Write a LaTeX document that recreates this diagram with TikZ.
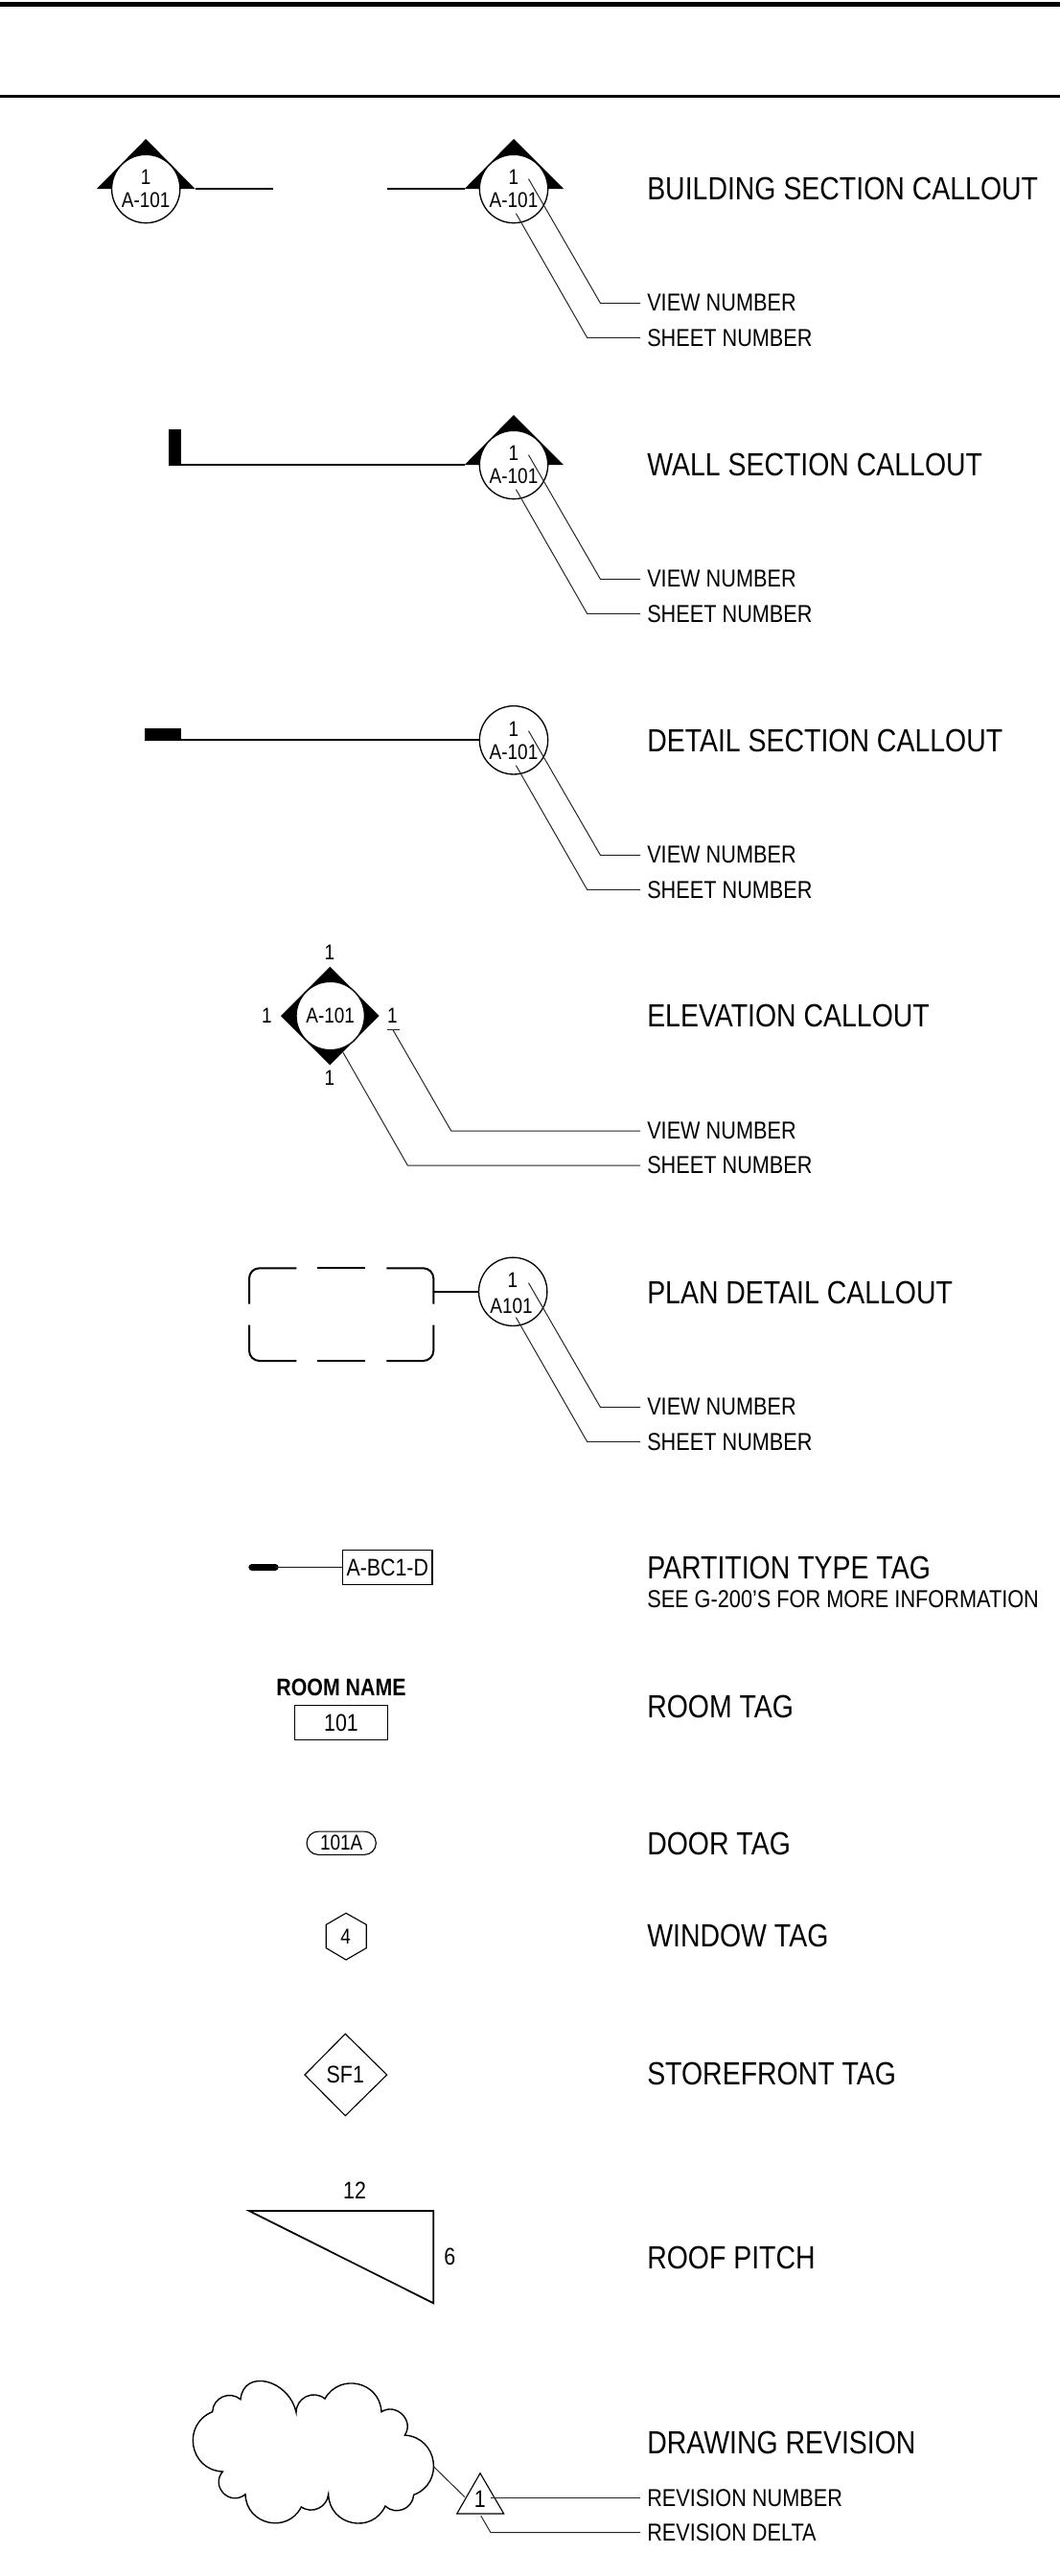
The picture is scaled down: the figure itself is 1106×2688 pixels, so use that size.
\documentclass[tikz,border=0pt]{standalone}
\usepackage{fontspec}
\setmainfont[FakeStretch=0.85]{Liberation Sans}
\usetikzlibrary{shapes.misc}
\tikzset{
  main/.style={line width=1.3pt,black},
  leader/.style={line width=0.75pt,black!85},
  thin tag/.style={line width=0.85pt,black},
  bubble/.style={circle,draw=black,line width=1pt,fill=white,minimum size=53.5pt,inner sep=0pt},
  ttl/.style={anchor=west,inner sep=0pt,font=\fontsize{25.1}{25.1}\selectfont},
  lab/.style={anchor=west,inner xsep=5.25pt,inner ysep=0pt,font=\fontsize{19.14}{19.14}\selectfont},
  sm/.style={inner sep=0pt,font=\fontsize{16.75}{16.75}\selectfont},
  md/.style={inner sep=0pt,font=\fontsize{18.85}{18.85}\selectfont},
  blk/.style={fill=black,draw=none},
}
\newcommand{\viewsheet}[1]{%
  \coordinate (vs#1) at (551.5,186.7);
  \coordinate (vk#1) at (626.4,316.3);
  \coordinate (ss#1) at (538.4,222.7);
  \coordinate (sk#1) at (612.6,352.3);
  \node[lab] (vl#1) at (668,316.3) {VIEW NUMBER};
  \node[lab] (sl#1) at (668,352.3) {SHEET NUMBER};
  \draw[leader] (vs#1) -- (vk#1) -- (vl#1.west);
  \draw[leader] (ss#1) -- (sk#1) -- (sl#1.west);
}
\begin{document}
\begin{tikzpicture}[x=0.75pt,y=-0.75pt]
\useasboundingbox (0,0) rectangle (1106,2688);
\fill[white] (0,0) rectangle (1106,2688);
% header rules
\draw[line width=3.75pt] (0,4.6) -- (1106,4.6);
\draw[line width=1.9pt] (0,100.5) -- (1106,100.5);

% building section
\coordinate (b1L) at (101,197); \coordinate (b1R) at (203.5,197); \coordinate (b1T) at (152.2,145);
\coordinate (b1E) at (284.6,197);
\coordinate (b2L) at (484.8,197); \coordinate (b2R) at (588,197); \coordinate (b2T) at (536,145);
\coordinate (b2E) at (403.7,197);
\fill[blk] (b1L) -- (b1T) -- (b1R) -- cycle;
\fill[blk] (b2L) -- (b2T) -- (b2R) -- cycle;
\draw[main] (b1R) -- (b1E);
\draw[main] (b2E) -- (b2L);
\node[bubble] (c1a) at (152.2,197) {};
\node[sm] (n1a) at (152.2,184.7) {1};
\node[sm] (s1a) at (152.2,209) {A-101};
\node[bubble] (c1b) at (536,197) {};
\node[sm] (n1b) at (536,184.7) {1};
\node[sm] (s1b) at (536,209) {A-101};
\viewsheet{1}
\node[ttl] (t1) at (675,196.5) {BUILDING SECTION CALLOUT};

% wall section
\begin{scope}[shift={(0,288)}]
\coordinate (w2L) at (484.8,197); \coordinate (w2R) at (588,197); \coordinate (w2T) at (536,145);
\coordinate (wE) at (189,197);
\fill[blk] (w2L) -- (w2T) -- (w2R) -- cycle;
\fill[blk] (175.9,159.5) rectangle (188.9,197.5);
\draw[main] (wE) -- (w2L);
\node[bubble] (c2) at (536,197) {};
\node[sm] (n2) at (536,184.7) {1};
\node[sm] (s2) at (536,209) {A-101};
\viewsheet{2}
\node[ttl] (t2) at (675,196.5) {WALL SECTION CALLOUT};
\end{scope}

% detail section
\begin{scope}[shift={(0,576)}]
\coordinate (dE) at (189,196.3);
\fill[blk] (151.4,183.6) rectangle (188.9,196.9);
\node[bubble] (c3) at (536,196.3) {};
\draw[main] (dE) -- (c3);
\node[sm] (n3) at (536,184.7) {1};
\node[sm] (s3) at (536,209) {A-101};
\viewsheet{3}
\node[ttl] (t3) at (675,196.5) {DETAIL SECTION CALLOUT};
\end{scope}

% elevation
\fill[blk] (293,1060) -- (344.3,1008.7) -- (395.7,1060) -- (344.3,1111.3) -- cycle;
\node[bubble] (c4) at (344.7,1060) {};
\node[sm] (s4) at (344.7,1060) {A-101};
\node[sm] (e4t) at (344,994) {1};
\node[sm] (e4l) at (278.3,1060) {1};
\node[sm] (e4r) at (409.3,1060) {1};
\node[sm] (e4b) at (344,1125) {1};
\coordinate (u4a) at (404,1074.7); \coordinate (u4b) at (416.7,1074.7);
\draw[leader] (u4a) -- (u4b);
\coordinate (v4s) at (410,1074.7); \coordinate (v4k) at (470.7,1180);
\coordinate (s4s) at (358,1098.3); \coordinate (s4k) at (425.3,1216);
\node[lab] (vl4) at (668,1180) {VIEW NUMBER};
\node[lab] (sl4) at (668,1216) {SHEET NUMBER};
\draw[leader] (v4s) -- (v4k) -- (vl4.west);
\draw[leader] (s4s) -- (s4k) -- (sl4.west);
\node[ttl] (t4) at (675,1060) {ELEVATION CALLOUT};

% plan detail
\begin{scope}[line width=1.5pt,black,rounded corners=8pt]
\draw (260,1360.7) -- (260,1323.3) -- (309.3,1323.3);
\draw (403.3,1323.3) -- (452.3,1323.3) -- (452.3,1360.7);
\draw (260,1382.7) -- (260,1420) -- (309.3,1420);
\draw (403.3,1420) -- (452.3,1420) -- (452.3,1382.7);
\draw (331,1323.3) -- (381,1323.3);
\draw (331,1420) -- (381,1420);
\end{scope}
\coordinate (pdE) at (452.3,1347.8);
\node[bubble] (c5) at (535.2,1347.8) {};
\draw[main] (pdE) -- (c5);
\node[sm] (n5) at (535,1336) {1};
\node[sm] (s5) at (533.5,1362.3) {A101};
\begin{scope}[shift={(0,1152)}]
\viewsheet{5}
\end{scope}
\node[ttl] (t5) at (675,1349) {PLAN DETAIL CALLOUT};

% partition tag
\coordinate (p6a) at (262.8,1635.3); \coordinate (p6b) at (287.2,1635.3);
\draw[line width=5.2pt,line cap=round] (p6a) -- (p6b);
\node[draw=black,line width=0.9pt,inner sep=0pt,minimum width=70pt,minimum height=26.7pt,font=\fontsize{18.85}{18.85}\selectfont] (ptag) at (404.3,1635.5) {A-BC1-D};
\draw[leader] (p6b) -- (ptag);
\node[ttl] (t6) at (675,1636) {PARTITION TYPE TAG};
\node[anchor=west,inner sep=0pt,font=\fontsize{19.16}{19.16}\selectfont] (t6b) at (675,1669) {SEE G-200'S FOR MORE INFORMATION};

% room tag
\node[md,font=\bfseries\fontsize{18.85}{18.85}\selectfont] (rn) at (356,1761) {ROOM NAME};
\node[draw=black,line width=0.9pt,inner sep=0pt,minimum width=72.5pt,minimum height=27.3pt,font=\fontsize{18.85}{18.85}\selectfont] (rb) at (356,1797.5) {101};
\node[ttl] (t7) at (675,1781) {ROOM TAG};

% door tag
\node[rounded rectangle,draw=black,line width=0.85pt,inner sep=0pt,minimum width=54.2pt,minimum height=18.2pt,font=\fontsize{16.75}{16.75}\selectfont] (dt) at (356.2,1923.2) {101A};
\node[ttl] (t8) at (675,1924) {DOOR TAG};

% window tag
\draw[thin tag] (361,1996.3) -- (382.3,2008.3) -- (382.3,2032.7) -- (361,2045) -- (340.3,2032.7) -- (340.3,2008.3) -- cycle;
\node[sm] (wt) at (360.7,2020.7) {4};
\node[ttl] (t9) at (675,2020) {WINDOW TAG};

% storefront tag
\draw[thin tag] (360.3,2122.3) -- (403.7,2165) -- (360.3,2207.7) -- (318,2165) -- cycle;
\node[md] (sf) at (360.3,2165) {SF1};
\node[ttl] (t10) at (675,2164) {STOREFRONT TAG};

% roof pitch
\draw[main,line join=miter] (260,2307) -- (452.3,2307) -- (452.3,2403.3) -- cycle;
\node[md] (rp12) at (370,2286) {12};
\node[md] (rp6) at (469.3,2355) {6};
\node[ttl] (t11) at (675,2356) {ROOF PITCH};

% revision cloud
\begin{scope}[shift={(180,2460)},x=0.25pt,y=-0.25pt]
\draw[line width=1.05pt,line join=miter]
 (213,131) .. controls (222,34) and (364,67) .. (387,172)
 .. controls (387,125.6) and (440.9,99.8) .. (477,129)
 .. controls (524,47) and (649,75) .. (654,170)
 .. controls (700,140) and (758,198) .. (727,243)
 .. controls (830.5,250) and (852,393) .. (755,430)
 .. controls (751.8,474.3) and (698.6,495.3) .. (666,465)
 .. controls (624.4,554.4) and (490.6,526.6) .. (488,428)
 .. controls (483.9,469.2) and (437.3,491) .. (403,468)
 .. controls (359,553.2) and (230.6,523.8) .. (228,428)
 .. controls (180.8,467.6) and (117.4,404.2) .. (157,357)
 .. controls (52.5,352.7) and (27.9,208.9) .. (125,170)
 .. controls (126.8,125.4) and (178.8,102.4) .. (213,131) -- cycle;
\end{scope}
\coordinate (clE) at (452.7,2574); \coordinate (trE) at (485,2605.7);
\draw[leader] (clE) -- (trE);
\draw[thin tag] (501,2580.7) -- (525.7,2623) -- (476.7,2623) -- cycle;
\node[md] (rv) at (500.7,2608.3) {1};
\coordinate (rvA) at (511.7,2606.7);
\coordinate (rvB) at (501.7,2625); \coordinate (rvK) at (512,2642.7);
\node[lab] (rl1) at (668,2606.7) {REVISION NUMBER};
\node[lab] (rl2) at (668,2642.7) {REVISION DELTA};
\draw[leader] (rvA) -- (rl1.west);
\draw[leader] (rvB) -- (rvK) -- (rl2.west);
\node[ttl] (t12) at (675,2548.5) {DRAWING REVISION};
\end{tikzpicture}
\end{document}
